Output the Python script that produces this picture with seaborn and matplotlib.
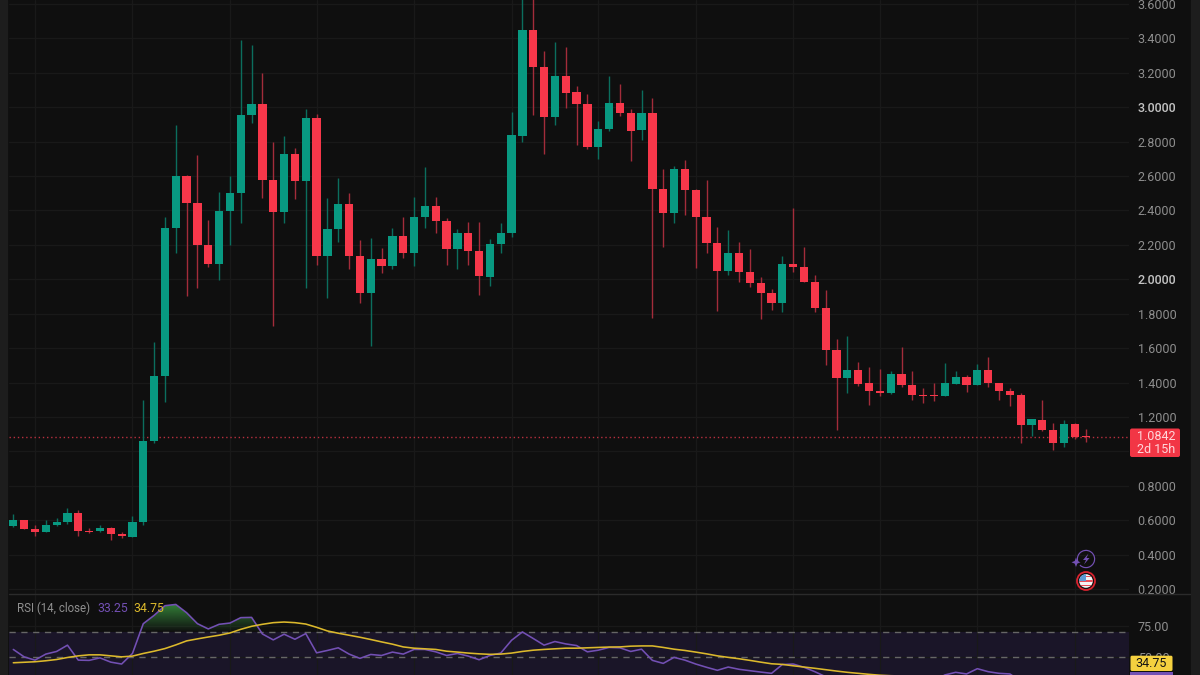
import matplotlib
matplotlib.use("Agg")
import matplotlib.pyplot as plt
import numpy as np
import pandas as pd
import seaborn as sns
from matplotlib.patches import Circle, FancyBboxPatch, PathPatch, Polygon, Rectangle, Wedge
from matplotlib.path import Path

# daily candles
opens = [0.564, 0.603, 0.548, 0.531, 0.572, 0.591, 0.644, 0.540, 0.535, 0.552,
         0.522, 0.504, 0.590, 1.058, 1.436, 2.295, 2.600, 2.440, 2.198, 2.087,
         2.395, 2.500, 2.952, 3.015, 2.574, 2.390, 2.725, 2.570, 2.934, 2.135,
         2.290, 2.438, 2.134, 1.920, 2.115, 2.075, 2.250, 2.153, 2.362, 2.428,
         2.339, 2.178, 2.266, 2.163, 2.013, 2.205, 2.267, 2.833, 3.450, 3.234,
         2.944, 3.182, 3.085, 3.020, 2.770, 2.872, 3.023, 2.965, 2.865, 2.965,
         2.525, 2.386, 2.640, 2.520, 2.362, 2.210, 2.047, 2.150, 2.040, 1.977,
         1.920, 1.860, 2.089, 2.070, 1.986, 1.830, 1.587, 1.426, 1.475, 1.395,
         1.353, 1.340, 1.450, 1.384, 1.330, 1.330, 1.324, 1.393, 1.430, 1.388,
         1.475, 1.400, 1.350, 1.330, 1.155, 1.184, 1.126, 1.047, 1.157, 1.090]
closes = [0.603, 0.548, 0.531, 0.574, 0.591, 0.644, 0.535, 0.531, 0.552, 0.519,
          0.506, 0.591, 1.058, 1.436, 2.295, 2.600, 2.440, 2.198, 2.087, 2.395,
          2.500, 2.952, 3.015, 2.574, 2.390, 2.725, 2.570, 2.934, 2.135, 2.290,
          2.438, 2.134, 1.920, 2.115, 2.075, 2.250, 2.153, 2.362, 2.424, 2.339,
          2.178, 2.266, 2.163, 2.017, 2.205, 2.270, 2.835, 3.450, 3.234, 2.944,
          3.182, 3.083, 3.020, 2.770, 2.872, 3.023, 2.965, 2.860, 2.965, 2.525,
          2.386, 2.640, 2.520, 2.362, 2.210, 2.047, 2.150, 2.040, 1.977, 1.920,
          1.860, 2.089, 2.070, 1.986, 1.830, 1.587, 1.426, 1.475, 1.390, 1.350,
          1.340, 1.450, 1.384, 1.327, 1.322, 1.322, 1.395, 1.430, 1.388, 1.475,
          1.400, 1.350, 1.330, 1.155, 1.186, 1.122, 1.047, 1.157, 1.083, 1.0842]
highs = [0.634, 0.603, 0.575, 0.600, 0.614, 0.669, 0.657, 0.552, 0.570, 0.562,
         0.531, 0.622, 1.300, 1.635, 2.362, 2.895, 2.605, 2.720, 2.343, 2.504,
         2.600, 3.390, 3.360, 3.200, 2.800, 2.833, 2.760, 2.990, 2.960, 2.473,
         2.590, 2.500, 2.230, 2.242, 2.184, 2.296, 2.359, 2.478, 2.650, 2.478,
         2.356, 2.292, 2.335, 2.335, 2.233, 2.326, 2.970, 3.660, 3.700, 3.326,
         3.378, 3.347, 3.122, 3.077, 2.920, 3.182, 3.135, 2.990, 3.100, 3.050,
         2.643, 2.660, 2.694, 2.523, 2.575, 2.302, 2.285, 2.215, 2.176, 2.014,
         1.946, 2.135, 2.413, 2.188, 2.023, 1.940, 1.655, 1.668, 1.517, 1.492,
         1.477, 1.465, 1.606, 1.467, 1.366, 1.397, 1.512, 1.465, 1.446, 1.510,
         1.550, 1.400, 1.366, 1.340, 1.190, 1.297, 1.167, 1.184, 1.165, 1.130]
lows = [0.560, 0.548, 0.506, 0.531, 0.564, 0.580, 0.510, 0.523, 0.530, 0.488,
        0.494, 0.500, 0.574, 1.050, 1.285, 2.150, 1.900, 1.950, 2.070, 1.994,
        2.198, 2.327, 2.905, 2.470, 1.730, 2.324, 2.465, 1.950, 2.080, 1.890,
        2.217, 2.058, 1.862, 1.612, 2.037, 2.058, 2.124, 2.077, 2.298, 2.266,
        2.080, 2.060, 2.085, 1.909, 1.960, 2.150, 2.246, 2.800, 2.955, 2.725,
        2.897, 2.996, 2.777, 2.757, 2.700, 2.859, 2.950, 2.686, 2.810, 1.772,
        2.190, 2.324, 2.372, 2.066, 2.153, 1.818, 2.023, 1.982, 1.953, 1.770,
        1.824, 1.810, 2.042, 1.984, 1.808, 1.500, 1.122, 1.340, 1.378, 1.270,
        1.324, 1.335, 1.372, 1.297, 1.280, 1.295, 1.322, 1.393, 1.347, 1.385,
        1.374, 1.297, 1.263, 1.050, 1.090, 1.120, 1.010, 1.025, 1.070, 1.054]

rsi_values = [56.1, 50.2, 47.6, 52.4, 54.5, 59.5, 47.6, 47.4, 49.4, 46.0,
              44.5, 52.9, 76.6, 83.2, 90.9, 91.9, 85.3, 76.6, 72.4, 76.1,
              77.1, 81.4, 81.6, 68.4, 63.7, 68.2, 64.2, 68.7, 53.4, 55.3,
              57.4, 52.4, 49.0, 52.1, 51.3, 54.0, 52.4, 56.1, 56.1, 54.2,
              51.3, 52.9, 50.8, 47.9, 51.3, 53.2, 63.4, 70.0, 64.8, 59.5,
              62.4, 60.5, 59.2, 54.2, 55.5, 57.7, 57.4, 54.5, 56.3, 47.4,
              45.0, 49.8, 47.6, 44.5, 41.9, 39.5, 42.1, 40.3, 39.2, 38.1,
              37.1, 44.1, 44.5, 41.9, 38.4, 34.4, 32.6, 33.0, 32.0, 31.5,
              31.5, 33.0, 32.0, 31.0, 31.0, 31.0, 35.8, 37.9, 36.6, 40.8,
              38.4, 37.1, 36.6, 31.0, 32.0, 31.0, 29.0, 34.0, 33.0, 33.25]
rsi_ma = [45.5, 45.9, 46.3, 47.1, 48.1, 49.7, 51.0, 51.8, 51.8, 51.0,
          50.2, 50.8, 52.9, 54.7, 56.8, 59.7, 62.9, 64.5, 66.0, 67.4,
          69.2, 72.1, 74.5, 76.1, 77.4, 77.9, 77.4, 76.3, 73.7, 70.8,
          69.0, 67.4, 65.8, 64.0, 62.1, 60.3, 58.1, 57.1, 56.6, 56.1,
          54.7, 54.0, 53.2, 52.6, 52.2, 52.4, 53.2, 54.5, 55.5, 56.1,
          56.6, 57.1, 57.1, 57.4, 57.7, 58.0, 58.1, 58.7, 58.9, 58.9,
          57.7, 56.3, 55.3, 54.0, 52.6, 51.0, 49.8, 48.7, 47.4, 46.0,
          44.7, 44.2, 43.1, 42.1, 41.1, 40.0, 38.9, 37.9, 37.1, 36.3,
          35.6, 35.2, 35.0, 34.9, 34.8, 34.8, 34.7, 34.7, 34.7, 34.7,
          34.7, 34.7, 34.7, 34.7, 34.7, 34.7, 34.7, 34.7, 34.75, 34.75]

price_ticks = [0.2, 0.4, 0.6, 0.8, 1.0, 1.2, 1.4, 1.6, 1.8, 2.0, 2.2, 2.4, 2.6, 2.8, 3.0, 3.2, 3.4, 3.6]
bold_ticks = [2.0, 3.0]
hidden_ticks = [1.0]  # sits under the price badge, no label in the picture
rsi_ticks = [50, 75]
month_bars = [2, 11, 20, 28, 37, 46, 54, 63, 72, 80, 89, 98]
last_price = 1.0842
countdown = "2d 15h"
rsi_last = 33.25
ma_last = 34.75

BG = "#0f0f0f"
STRIP = "#1d1d1d"
GRID = "#191919"
GREEN = "#089981"
RED = "#f7374a"
GREEN_WICK = "#0b6e5e"
RED_WICK = "#a32c3a"
PURPLE = "#7350b4"
YELLOW = "#dcb92c"
TICK = "#8e8e8e"

sns.set_theme(style="dark", rc={"axes.facecolor": BG, "figure.facecolor": STRIP, "axes.edgecolor": BG})
plt.rcParams["font.family"] = ["Roboto", "DejaVu Sans"]

W, H = 1200, 675
PANE_L, PANE_R, SPLIT = 9, 1129, 593.5
TICK_PT = 9.0

df = pd.DataFrame({"bar": np.arange(len(opens)), "open": opens, "close": closes,
                   "high": highs, "low": lows, "rsi": rsi_values, "ma": rsi_ma})
df["up"] = df["close"] >= df["open"]

fig = plt.figure(figsize=(W / 100, H / 100), dpi=100)


def pane(top, bottom):
    return fig.add_axes([PANE_L / W, 1 - bottom / H, (PANE_R - PANE_L) / W, (bottom - top) / H])


# dark panel behind everything, strips stay on both sides
back = fig.add_axes([PANE_L / W, 0, (1190 - PANE_L) / W, 1], zorder=0)
back.set_facecolor(BG)
back.set_xticks([])
back.set_yticks([])

ax = pane(0, SPLIT)
ax_rsi = pane(SPLIT + 1, H)
for a in (ax, ax_rsi):
    a.set_zorder(1)
    a.patch.set_alpha(0)
    a.set_xlim(-0.397, 103.0)
    a.set_xticks(month_bars)
    a.set_xticklabels([])
    a.tick_params(length=0, labelright=True, labelleft=False, pad=6.2)
    a.yaxis.tick_right()
    a.grid(True, color=GRID, lw=0.9)
    a.set_axisbelow(True)
    a.set_xlabel("")
    a.set_ylabel("")
    for s in a.spines.values():
        s.set_visible(False)

# candles
for up, body_col, wick_col in ((True, GREEN, GREEN_WICK), (False, RED, RED_WICK)):
    part = df[df["up"] == up]
    ax.vlines(part["bar"], part["low"], part["high"], color=wick_col, lw=1.0, zorder=2)
    height = (part["close"] - part["open"]).abs().clip(lower=0.008)
    ax.bar(part["bar"], height, bottom=part[["open", "close"]].min(axis=1),
           width=0.76, color=body_col, lw=0, zorder=3)
ax.axhline(last_price, color="#b8303f", lw=1.0, ls=(0, (1, 2)), zorder=1)
ax.set_ylim(0.1744, 3.622)
ax.set_yticks(price_ticks)
ax.set_yticklabels(["" if t in hidden_ticks else f"{t:.4f}" for t in price_ticks], fontsize=TICK_PT, color=TICK)
for lab, t in zip(ax.get_yticklabels(), price_ticks):
    if t in bold_ticks:
        lab.set_color("#c4c4c4")
        lab.set_fontweight("medium")

# rsi pane
ax_rsi.axhspan(30, 70, color="#1a1528", lw=0, zorder=0.5)
for level in (70, 50):
    ax_rsi.axhline(level, color="#666666", lw=1.0, ls=(0, (4.5, 4)), zorder=1)
sns.lineplot(data=df, x="bar", y="rsi", ax=ax_rsi, color=PURPLE, lw=1.15, estimator=None, zorder=3)
sns.lineplot(data=df, x="bar", y="ma", ax=ax_rsi, color=YELLOW, lw=1.15, estimator=None, zorder=4)

over = ax_rsi.fill_between(df["bar"], 70, df["rsi"], where=df["rsi"] > 70, interpolate=True, alpha=0)
clip = Path.make_compound_path(*over.get_paths())
shade = np.zeros((64, 2, 4))
shade[..., :3] = (0.20, 0.50, 0.22)
shade[..., 3] = np.linspace(1.0, 0.0, 64)[:, None]
img = ax_rsi.imshow(shade, extent=(-1, 104, 70, 92), aspect="auto", zorder=2, interpolation="bilinear")
img.set_clip_path(PathPatch(clip, transform=ax_rsi.transData))
ax_rsi.set_xlim(-0.397, 103.0)
ax_rsi.set_ylim(35.77, 99.8)
ax_rsi.set_xlabel("")
ax_rsi.set_ylabel("")
ax_rsi.set_yticks(rsi_ticks)
ax_rsi.set_yticklabels([f"{t:.2f}" for t in rsi_ticks], fontsize=TICK_PT, color=TICK)

# overlay in picture pixels: labels, badges, event icons
top = fig.add_axes([0, 0, 1, 1], zorder=5)
top.set_xlim(0, W)
top.set_ylim(H, 0)
top.axis("off")
top.patch.set_alpha(0)
top.plot([PANE_L, 1190], [SPLIT, SPLIT], color="#2b2b2b", lw=1.0)

top.add_patch(FancyBboxPatch((1130, 428.5), 50, 28.5, boxstyle="round,pad=0,rounding_size=2", fc="#f23645", ec="none"))
top.text(1156, 436.5, f"{last_price:.4f}", color="#ffd6da", fontsize=TICK_PT, ha="center", va="center")
top.text(1156, 449.5, countdown, color="#ffd6da", fontsize=TICK_PT, ha="center", va="center")

top.add_patch(Rectangle((1130, 671.5), 43, 4, fc=PURPLE, ec="none"))
top.add_patch(FancyBboxPatch((1130.5, 655.7), 42, 15.3, boxstyle="round,pad=0,rounding_size=1.5", fc="#f5d13f", ec="none"))
top.text(1151.5, 663.5, f"{ma_last:.2f}", color="#141414", fontsize=TICK_PT, ha="center", va="center")

top.text(17, 608.5, "RSI (14, close)", color="#8f8f8f", fontsize=8.3, va="center")
top.text(97, 608.5, f"{rsi_last:.2f}", color=PURPLE, fontsize=8.8, va="center")
top.text(133, 608.5, f"{ma_last:.2f}", color=YELLOW, fontsize=8.8, va="center")

# lightning event marker
top.add_patch(Wedge((1086, 559), 9.2, -205, 135, width=1.2, fc=PURPLE, ec="none"))
top.add_patch(Polygon([(1088.5, 553.5), (1083, 560), (1086, 560), (1084, 564.5), (1089.5, 558), (1086.5, 558)], fc=PURPLE, ec="none"))
top.add_patch(Polygon([(1076, 557.5), (1077.3, 561), (1080.5, 562.3), (1077.3, 563.6), (1076, 567), (1074.7, 563.6), (1071.5, 562.3), (1074.7, 561)], fc=PURPLE, ec="none"))

# flag event marker
top.add_patch(Circle((1086, 581), 9, fc="none", ec="#d8232f", lw=1.3))
disc = Circle((1086, 581), 6.8, fc="#f4f4f4", ec="none")
top.add_patch(disc)
for sy in (575.5, 580, 584.5):
    r = Rectangle((1079, sy), 14, 1.8, fc="#e8505b", ec="none")
    top.add_patch(r)
    r.set_clip_path(disc)
canton = Rectangle((1079, 574), 7, 7, fc="#5b9bd5", ec="none")
top.add_patch(canton)
canton.set_clip_path(disc)

fig.savefig("out.png", dpi=100, facecolor=STRIP)
